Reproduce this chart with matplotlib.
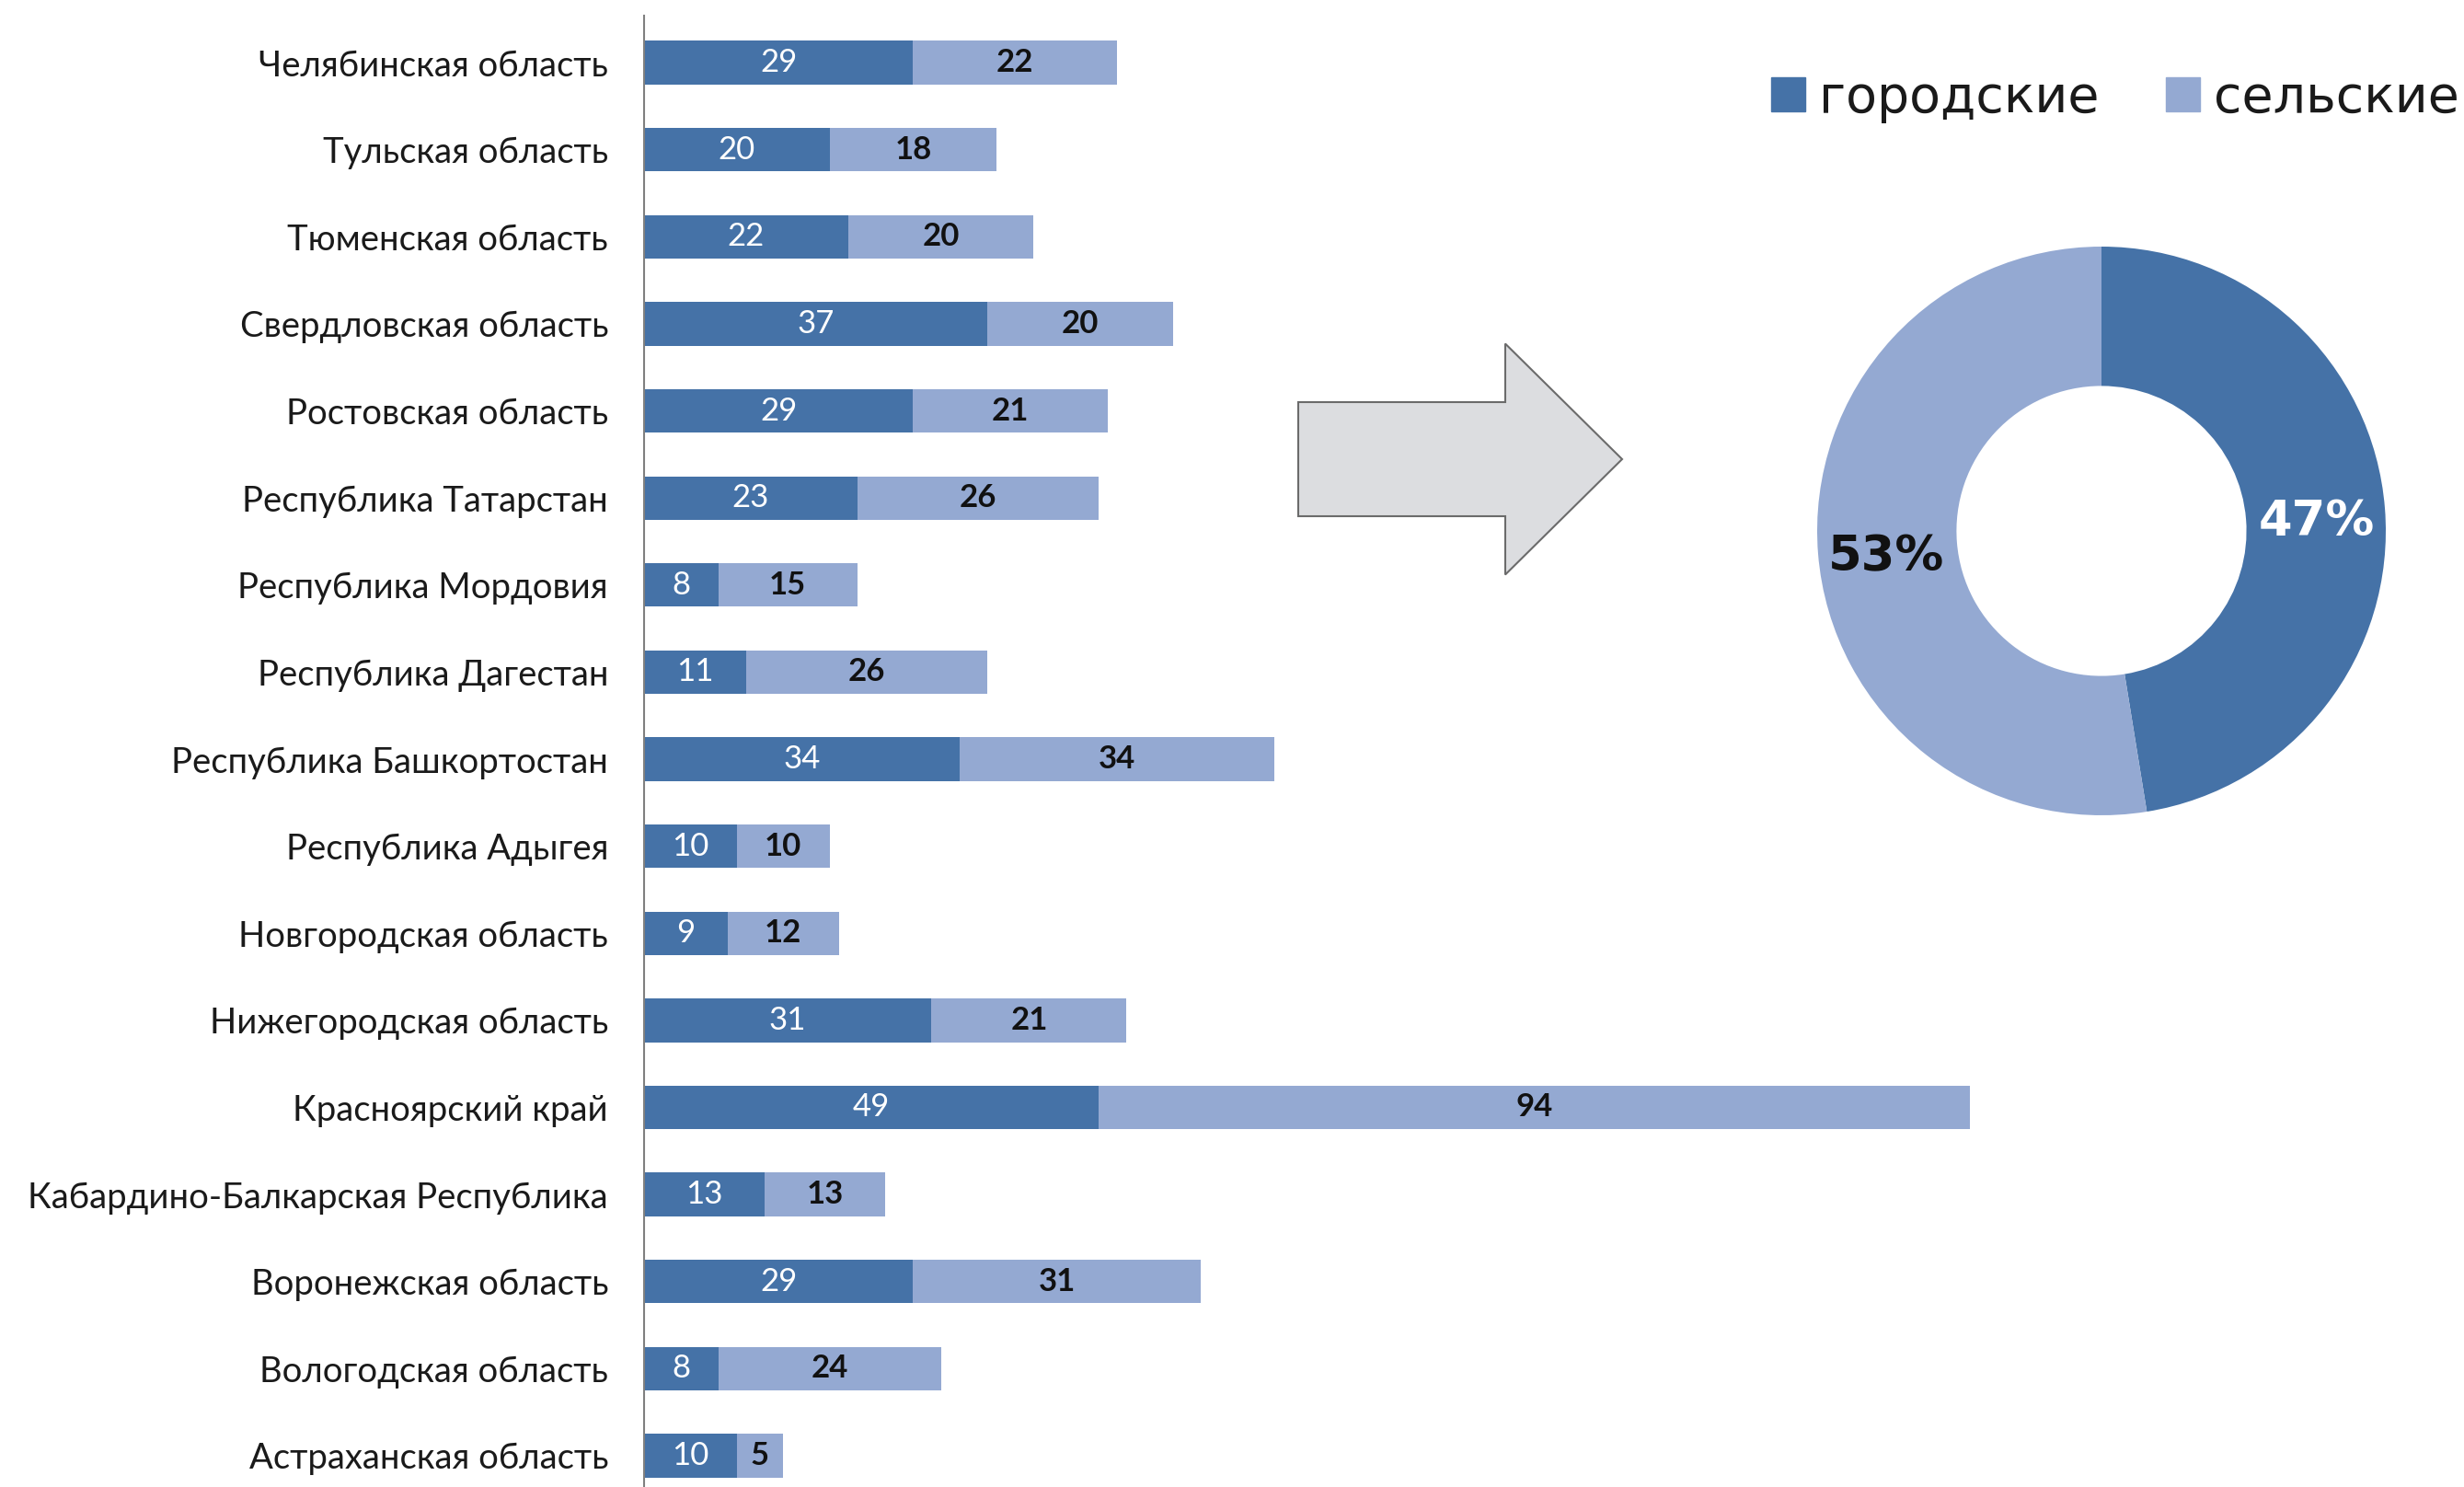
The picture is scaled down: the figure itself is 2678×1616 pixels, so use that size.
import matplotlib
matplotlib.use('Agg')
import matplotlib.pyplot as plt
from matplotlib.patches import FancyArrow, Patch

# data (top to bottom)
regions = ['Челябинская область', 'Тульская область', 'Тюменская область',
           'Свердловская область', 'Ростовская область', 'Республика Татарстан',
           'Республика Мордовия', 'Республика Дагестан', 'Республика Башкортостан',
           'Республика Адыгея', 'Новгородская область', 'Нижегородская область',
           'Красноярский край', 'Кабардино-Балкарская Республика',
           'Воронежская область', 'Вологодская область', 'Астраханская область']
urban = [29, 20, 22, 37, 29, 23, 8, 11, 34, 10, 9, 31, 49, 13, 29, 8, 10]
rural = [22, 18, 20, 20, 21, 26, 15, 26, 34, 10, 12, 21, 94, 13, 31, 24, 5]
legend_names = ['городские', 'сельские']

dark = '#4572a7'
light = '#94a9d2'
label_font = ['Lato', 'DejaVu Sans']

W, H = 2678, 1616
fig = plt.figure(figsize=(W / 100, H / 100), dpi=100)

# background axes in pixel units for the arrow
bg = fig.add_axes([0, 0, 1, 1], zorder=-1)
bg.set_xlim(0, W)
bg.set_ylim(H, 0)
bg.axis('off')
bg.add_patch(FancyArrow(1411, 499, 352, 0, width=124, head_width=251,
                        head_length=127, length_includes_head=True,
                        facecolor='#dcdde0', edgecolor='#6b6b6b', linewidth=1.5))

# stacked bars
ax = fig.add_axes([700 / W, 0, 1512 / W, (H - 17) / H])
ax.patch.set_alpha(0)
ypos = list(range(len(regions)))
b1 = ax.barh(ypos, urban, height=0.5, color=dark)
b2 = ax.barh(ypos, rural, left=urban, height=0.5, color=light)
ax.bar_label(b1, label_type='center', color='white', fontsize=25, family=label_font)
ax.bar_label(b2, label_type='center', color='#111111', fontsize=25,
             fontweight='bold', family=label_font)
ax.set_xlim(0, 150)
ax.set_ylim(16.36, -0.54)
ax.set_yticks(ypos)
ax.set_yticklabels(regions, fontsize=27.5, family=label_font, color='#1a1a1a')
ax.tick_params(axis='y', length=0, pad=28)
ax.set_xticks([])
for s in ['top', 'right', 'bottom']:
    ax.spines[s].set_visible(False)
ax.spines['left'].set_color('#808080')
ax.spines['left'].set_linewidth(1.5)

# donut of totals
pax = fig.add_axes([(2284 - 309) / W, (H - 577 - 309) / H, 618 / W, 618 / H])
wedges, texts, autotexts = pax.pie([sum(urban), sum(rural)], colors=[dark, light],
                                   startangle=90, counterclock=False,
                                   autopct='%.0f%%', pctdistance=0.76,
                                   wedgeprops=dict(width=0.49))
autotexts[0].set_color('white')
autotexts[1].set_color('#111111')
for t in autotexts:
    t.set_fontsize(38)
    t.set_fontweight('bold')
    x, y = t.get_position()
    t.set_position((x, y - 0.03))
pax.set_xlim(-1, 1)
pax.set_ylim(-1, 1)

fig.legend(handles=[Patch(color=dark), Patch(color=light)], labels=legend_names,
           loc='center left', bbox_to_anchor=(1925 / W, 1 - 107 / H), ncol=2,
           frameon=False, fontsize=40, handlelength=0.66, handleheight=0.66,
           handletextpad=0.28, columnspacing=1.3, borderaxespad=0, borderpad=0,
           labelcolor='#1a1a1a')

fig.savefig('out.png', dpi=100)
